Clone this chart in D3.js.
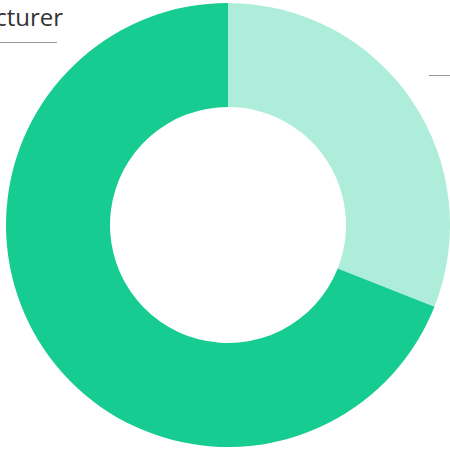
<!DOCTYPE html>
<html><head><meta charset="utf-8">
<script src="https://cdn.jsdelivr.net/npm/d3@7"></script>
<style>html,body{margin:0;padding:0;background:#fff;overflow:hidden}</style>
</head><body><svg id="c" width="450" height="451"></svg>
<script>
const categories = ["Distributor", "Manufacturer"];
const values = [31, 69];
const colors = ["#aeedd9", "#16cc91"];

const svg = d3.select("#c");
const cx = 228, cy = 225, outerR = 222, innerR = 118;
const g = svg.append("g").attr("transform", `translate(${cx},${cy})`);
const pie = d3.pie().sort(null).value(d => d.v);
const arcs = pie(categories.map((c, i) => ({c, v: values[i]})));
const arc = d3.arc().innerRadius(innerR).outerRadius(outerR);
g.selectAll("path").data(arcs).enter().append("path")
  .attr("d", arc).attr("fill", (d, i) => colors[i]);

// labels with underline leaders (as in the reference, mostly cropped)
const labels = [
  {text: categories[1], x: 63, y: 26, anchor: "end", lx1: -60, lx2: 57, ly: 42.5},
  {text: categories[0], x: 455, y: 59, anchor: "start", lx1: 429, lx2: 520, ly: 75.5}
];
labels.forEach(l => {
  svg.append("text").attr("x", l.x).attr("y", l.y).attr("text-anchor", l.anchor)
    .attr("font-family", "'Open Sans', sans-serif").attr("font-size", 24)
    .attr("fill", "#333").text(l.text);
  svg.append("line").attr("x1", l.lx1).attr("x2", l.lx2).attr("y1", l.ly).attr("y2", l.ly)
    .attr("stroke", "#999").attr("stroke-width", 1);
});
</script></body></html>
